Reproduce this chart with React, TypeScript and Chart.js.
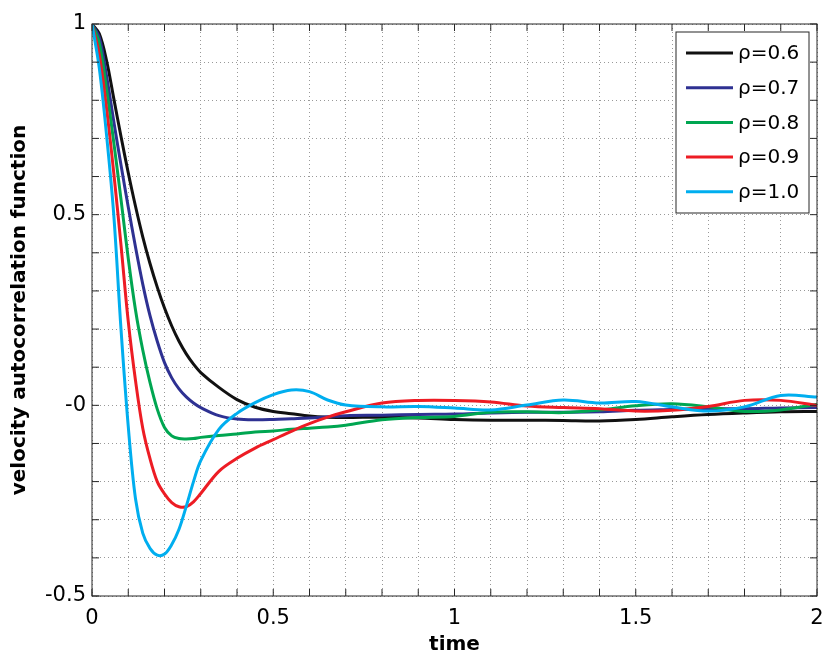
import React, { useEffect, useRef } from 'react';
import { Chart, registerables } from 'chart.js';

Chart.register(...registerables);

// sample times (shared by every series)
const time = [
  0, 0.02, 0.04, 0.06, 0.08, 0.1, 0.12, 0.14, 0.16, 0.18, 0.2, 0.22, 0.24, 0.26, 0.28, 0.3,
  0.35, 0.4, 0.45, 0.5, 0.55, 0.6, 0.65, 0.7, 0.8, 0.9, 1.0, 1.1, 1.2, 1.3, 1.4, 1.5, 1.6,
  1.7, 1.8, 1.9, 2.0,
];

const rho06 = [
  1, 0.975, 0.905, 0.805, 0.705, 0.61, 0.522, 0.442, 0.372, 0.31, 0.255, 0.208, 0.168, 0.135,
  0.108, 0.086, 0.047, 0.015, -0.005, -0.016, -0.022, -0.028, -0.031, -0.032, -0.031, -0.033,
  -0.037, -0.039, -0.039, -0.04, -0.041, -0.037, -0.03, -0.024, -0.02, -0.017, -0.016,
];
const rho07 = [
  1, 0.965, 0.865, 0.745, 0.63, 0.52, 0.415, 0.318, 0.235, 0.168, 0.112, 0.072, 0.043, 0.022,
  0.006, -0.006, -0.027, -0.036, -0.038, -0.037, -0.035, -0.033, -0.03, -0.027, -0.026, -0.024,
  -0.023, -0.02, -0.018, -0.018, -0.017, -0.013, -0.011, -0.009, -0.009, -0.007, -0.006,
];
const rho08 = [
  1, 0.95, 0.83, 0.69, 0.54, 0.385, 0.25, 0.145, 0.06, -0.01, -0.058, -0.08, -0.087, -0.088,
  -0.087, -0.084, -0.079, -0.075, -0.07, -0.067, -0.063, -0.06, -0.057, -0.052, -0.038, -0.032,
  -0.029, -0.018, -0.017, -0.019, -0.012, -0.001, 0.004, -0.004, -0.016, -0.012, 0.003,
];
const rho09 = [
  1, 0.92, 0.78, 0.61, 0.42, 0.22, 0.065, -0.06, -0.14, -0.2, -0.232, -0.255, -0.266, -0.266,
  -0.253, -0.231, -0.173, -0.139, -0.112, -0.09, -0.068, -0.048, -0.031, -0.017, 0.006, 0.013,
  0.013, 0.009, -0.002, -0.006, -0.009, -0.015, -0.013, -0.003, 0.013, 0.013, 0,
];
const rho10 = [
  1, 0.885, 0.71, 0.5, 0.2, -0.055, -0.245, -0.335, -0.375, -0.393, -0.39, -0.365, -0.325,
  -0.265, -0.2, -0.145, -0.063, -0.021, 0.007, 0.028, 0.04, 0.036, 0.014, 0.001, -0.004, -0.003,
  -0.007, -0.012, 0.001, 0.014, 0.006, 0.01, -0.004, -0.015, -0.004, 0.026, 0.022,
];

const seriesLabels = ['ρ=0.6', 'ρ=0.7', 'ρ=0.8', 'ρ=0.9', 'ρ=1.0'];
const seriesColors = ['#111111', '#2e3192', '#00a651', '#ed1c24', '#00aeef'];

const xTickValues = [0, 0.5, 1, 1.5, 2];
const xTickLabels = ['0', '0.5', '1', '1.5', '2'];
const yTickValues = [-0.5, 0, 0.5, 1];
const yTickLabels = ['-0.5', '-0', '0.5', '1'];

const FONT = 'DejaVu Sans';

const labelFor = (values: number[], labels: string[]) => (v: any) => {
  const i = values.findIndex(t => Math.abs(t - Number(v)) < 1e-6);
  return i >= 0 ? labels[i] : '';
};

// axes box with inward ticks, plus the boxed legend in the top right corner
const framePlugin = {
  id: 'frame',
  afterDatasetsDraw(chart: any) {
    const { ctx, chartArea: a, scales } = chart;
    ctx.save();
    ctx.strokeStyle = '#262626';
    ctx.lineWidth = 1;
    ctx.strokeRect(a.left, a.top, a.right - a.left, a.bottom - a.top);
    ctx.beginPath();
    scales.x.ticks.forEach((t: any) => {
      const px = scales.x.getPixelForValue(t.value);
      ctx.moveTo(px, a.bottom);
      ctx.lineTo(px, a.bottom - 7);
      ctx.moveTo(px, a.top);
      ctx.lineTo(px, a.top + 7);
    });
    scales.y.ticks.forEach((t: any) => {
      const py = scales.y.getPixelForValue(t.value);
      ctx.moveTo(a.left, py);
      ctx.lineTo(a.left + 7, py);
      ctx.moveTo(a.right, py);
      ctx.lineTo(a.right - 7, py);
    });
    ctx.stroke();

    // legend
    const box = { left: a.right - 141, top: a.top + 8, width: 133, height: 181 };
    ctx.fillStyle = '#ffffff';
    ctx.fillRect(box.left, box.top, box.width, box.height);
    ctx.strokeRect(box.left, box.top, box.width, box.height);
    ctx.font = `20px "${FONT}"`;
    ctx.textBaseline = 'middle';
    ctx.textAlign = 'left';
    chart.data.datasets.forEach((ds: any, i: number) => {
      const y = box.top + 21 + i * 34.7;
      ctx.strokeStyle = ds.borderColor;
      ctx.lineWidth = 3;
      ctx.beginPath();
      ctx.moveTo(box.left + 10, y);
      ctx.lineTo(box.left + 57, y);
      ctx.stroke();
      ctx.fillStyle = '#000000';
      ctx.fillText(ds.label, box.left + 62, y + 1);
    });
    ctx.restore();
  },
};

const App: React.FC = () => {
  const chartRef = useRef<HTMLCanvasElement>(null);
  const chartInstance = useRef<Chart | null>(null);

  useEffect(() => {
    if (!chartRef.current) return;
    if (chartInstance.current) chartInstance.current.destroy();

    const series = [rho06, rho07, rho08, rho09, rho10];
    const datasets = series.map((values, i) => ({
      label: seriesLabels[i],
      data: values.map((y, j) => ({ x: time[j], y })),
      borderColor: seriesColors[i],
      backgroundColor: seriesColors[i],
      borderWidth: 3,
      pointRadius: 0,
      fill: false,
      tension: 0.35,
      order: series.length - i,
    }));

    chartInstance.current = new Chart(chartRef.current, {
      type: 'line',
      data: { datasets },
      options: {
        responsive: false,
        animation: false,
        layout: { padding: { left: 0, top: 24, right: 13, bottom: 0 } },
        plugins: { legend: { display: false }, tooltip: { enabled: false } },
        scales: {
          x: {
            type: 'linear',
            min: 0,
            max: 2,
            afterFit: (scale: any) => {
              scale.height = 66;
              scale.paddingLeft = 0;
              scale.paddingRight = 0;
            },
            ticks: {
              stepSize: 0.1,
              autoSkip: false,
              maxRotation: 0,
              padding: 10,
              color: '#000',
              font: { family: FONT, size: 21 },
              callback: labelFor(xTickValues, xTickLabels),
            },
            grid: { color: '#999999', lineWidth: 1, drawTicks: false },
            border: { display: false, dash: [1, 3] },
            title: {
              display: true,
              text: 'time',
              color: '#000',
              font: { family: FONT, size: 20, weight: 'bold' },
              padding: { top: 0, bottom: 5 },
            },
          },
          y: {
            type: 'linear',
            min: -0.5,
            max: 1,
            afterFit: (scale: any) => {
              scale.width = 92;
              scale.paddingTop = 0;
              scale.paddingBottom = 0;
            },
            ticks: {
              stepSize: 0.1,
              autoSkip: false,
              padding: 6,
              color: '#000',
              font: { family: FONT, size: 21 },
              callback: labelFor(yTickValues, yTickLabels),
            },
            grid: { color: '#999999', lineWidth: 1, drawTicks: false },
            border: { display: false, dash: [1, 3] },
            title: {
              display: true,
              text: 'velocity autocorrelation function',
              color: '#000',
              font: { family: FONT, size: 20, weight: 'bold' },
              padding: { top: 8, bottom: 0 },
            },
          },
        },
      },
      plugins: [framePlugin],
    });

    return () => {
      if (chartInstance.current) {
        chartInstance.current.destroy();
        chartInstance.current = null;
      }
    };
  }, []);

  return (
    <div style={{ position: 'fixed', left: 0, top: 0, width: 830, height: 662, background: '#fff' }}>
      <canvas ref={chartRef} width={830} height={662} />
    </div>
  );
};

export default App;
